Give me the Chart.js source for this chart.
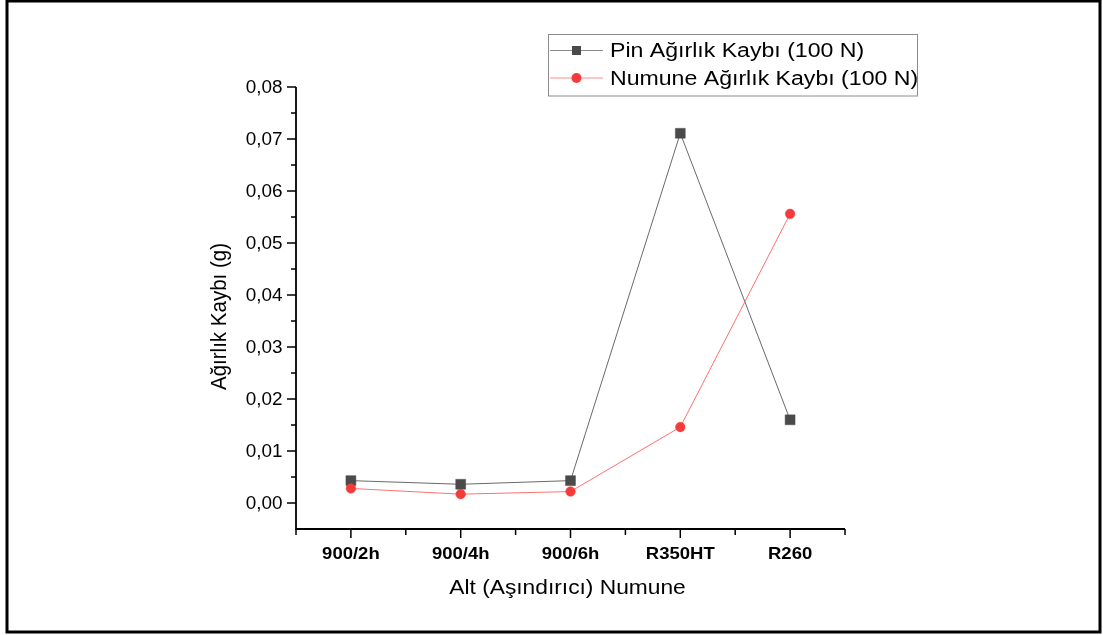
<!DOCTYPE html>
<html>
<head>
<meta charset="utf-8">
<script src="https://cdn.jsdelivr.net/npm/chart.js@4.4.1/dist/chart.umd.min.js"></script>
<style>
  html, body { margin: 0; padding: 0; background: #fff; }
  canvas { display: block; }
</style>
</head>
<body>
<canvas id="c" width="1103" height="635"></canvas>
<script>
// ---- data ----
const categories = ['900/2h', '900/4h', '900/6h', 'R350HT', 'R260'];
const pinLoss = [0.0043, 0.0036, 0.0043, 0.0711, 0.0160];
const numuneLoss = [0.0028, 0.0017, 0.0022, 0.0146, 0.0556];
const seriesNames = ['Pin Ağırlık Kaybı (100 N)', 'Numune Ağırlık Kaybı (100 N)'];
const yMajorTicks = [0, 0.01, 0.02, 0.03, 0.04, 0.05, 0.06, 0.07, 0.08];
const yMinorTicks = [0.005, 0.015, 0.025, 0.035, 0.045, 0.055, 0.065, 0.075];
const xMinorTicks = [0.5, 1.5, 2.5, 3.5, 4.5, 5.5];
const xTitle = 'Alt (Aşındırıcı) Numune';
const yTitle = 'Ağırlık Kaybı (g)';

const FONT = '"Liberation Sans", Arial, sans-serif';

function drawText(ctx, s, x, y, o) {
  ctx.save();
  ctx.translate(x, y);
  ctx.scale(o.sx || 1, 1);
  if (o.rot) ctx.rotate(o.rot);
  ctx.font = (o.bold ? 'bold ' : '') + o.size + 'px ' + FONT;
  ctx.fillStyle = o.color || '#000';
  ctx.textAlign = o.align || 'left';
  ctx.textBaseline = o.baseline || 'alphabetic';
  ctx.fillText(s, 0, 0);
  ctx.restore();
}

const decor = {
  id: 'decor',
  beforeDraw(chart) {
    const ctx = chart.ctx;
    ctx.save();
    ctx.fillStyle = '#fff';
    ctx.fillRect(0, 0, chart.width, chart.height);
    ctx.strokeStyle = '#000';
    ctx.lineWidth = 3;
    ctx.strokeRect(7, 1, 1093, 631);
    ctx.restore();
  },
  afterDraw(chart) {
    const ctx = chart.ctx;
    const xs = chart.scales.x, ys = chart.scales.y;
    const x0 = xs.getPixelForValue(0.5), x1 = xs.getPixelForValue(5.5);
    const yb = ys.getPixelForValue(-0.005), yt = ys.getPixelForValue(0.08);
    ctx.save();
    ctx.strokeStyle = '#000';
    ctx.lineWidth = 1.8;
    ctx.beginPath();
    ctx.moveTo(x0, yt); ctx.lineTo(x0, yb); ctx.lineTo(x1, yb);
    ctx.stroke();
    ctx.lineWidth = 1.5;
    ctx.beginPath();
    yMajorTicks.forEach(v => { const p = ys.getPixelForValue(v); ctx.moveTo(x0, p); ctx.lineTo(x0 - 9, p); });
    yMinorTicks.forEach(v => { const p = ys.getPixelForValue(v); ctx.moveTo(x0, p); ctx.lineTo(x0 - 5, p); });
    categories.forEach((c, i) => { const p = xs.getPixelForValue(i + 1); ctx.moveTo(p, yb); ctx.lineTo(p, yb + 9); });
    xMinorTicks.forEach(v => { const p = xs.getPixelForValue(v); ctx.moveTo(p, yb); ctx.lineTo(p, yb + 6); });
    ctx.stroke();
    ctx.restore();

    yMajorTicks.forEach(v => {
      const p = ys.getPixelForValue(v);
      drawText(ctx, v.toFixed(2).replace('.', ','), x0 - 13.5, p + 6.2, {size: 17.5, sx: 1.08, align: 'right'});
    });
    categories.forEach((c, i) => {
      const p = xs.getPixelForValue(i + 1);
      drawText(ctx, c, p, yb + 29.5, {size: 17.3, sx: 1.07, bold: true, align: 'center'});
    });
    drawText(ctx, xTitle, 567.5, 594, {size: 20.5, sx: 1.11, align: 'center'});
    drawText(ctx, yTitle, 225.5, 316.5, {size: 20.5, sx: 1.05, align: 'center', rot: -Math.PI / 2});

    // legend
    ctx.save();
    ctx.strokeStyle = '#8c8c8c';
    ctx.lineWidth = 1;
    ctx.strokeRect(548.5, 34.5, 369, 61.5);
    ctx.restore();
    const rows = [
      {y: 50.5, base: 57, line: '#8a8a8a', fill: '#4a4a4a', rect: true},
      {y: 78, base: 84.5, line: '#ff8c8c', fill: '#f43b3b', rect: false}
    ];
    rows.forEach((r, i) => {
      ctx.save();
      ctx.strokeStyle = r.line; ctx.lineWidth = 1;
      ctx.beginPath(); ctx.moveTo(550, r.y); ctx.lineTo(603, r.y); ctx.stroke();
      ctx.fillStyle = r.fill;
      if (r.rect) { ctx.fillRect(572, r.y - 4.5, 9, 9); }
      else { ctx.beginPath(); ctx.arc(576.5, r.y, 5, 0, Math.PI * 2); ctx.fill(); }
      ctx.restore();
      drawText(ctx, seriesNames[i], 610, r.base, {size: 20, sx: 1.155});
    });
  }
};

const toPts = arr => arr.map((v, i) => ({x: i + 1, y: v}));

new Chart(document.getElementById('c'), {
  type: 'line',
  data: {
    datasets: [
      {
        label: seriesNames[0],
        data: toPts(pinLoss),
        borderColor: '#6a6a6a',
        borderWidth: 1,
        pointStyle: 'rect',
        pointRadius: 7,
        pointBorderWidth: 0.5,
        pointBackgroundColor: '#4a4a4a',
        pointBorderColor: '#4a4a4a',
        tension: 0,
        order: 2
      },
      {
        label: seriesNames[1],
        data: toPts(numuneLoss),
        borderColor: '#ff7070',
        borderWidth: 1,
        pointStyle: 'circle',
        pointRadius: 4.8,
        pointBorderWidth: 0.5,
        pointBackgroundColor: '#f43b3b',
        pointBorderColor: '#f43b3b',
        tension: 0,
        order: 1
      }
    ]
  },
  options: {
    responsive: false,
    animation: false,
    devicePixelRatio: 1,
    layout: { padding: { left: 296, right: 258, top: 87, bottom: 106 } },
    plugins: { legend: { display: false }, tooltip: { enabled: false } },
    scales: {
      x: { type: 'linear', min: 0.5, max: 5.5, display: false },
      y: { type: 'linear', min: -0.005, max: 0.08, display: false }
    }
  },
  plugins: [decor]
});
</script>
</body>
</html>
